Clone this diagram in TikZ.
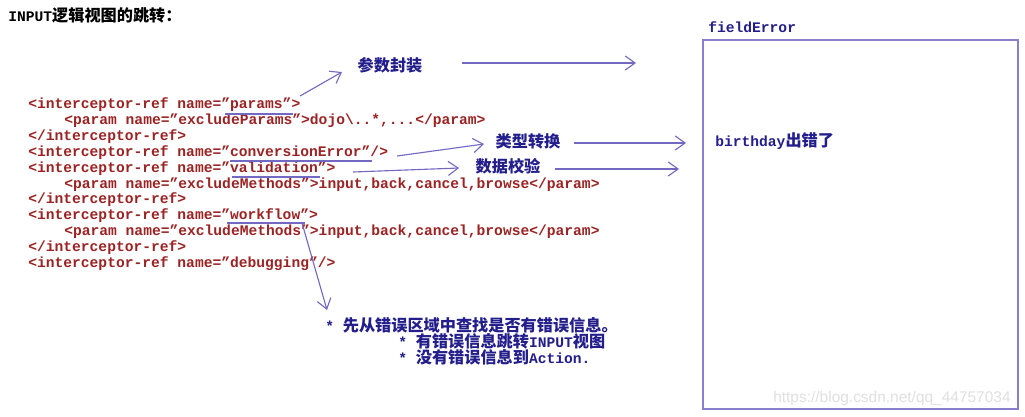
\documentclass[tikz,border=0pt]{standalone}
\usepackage{fontspec}
\setmainfont{Liberation Mono}
\newfontfamily\cjk{Noto Sans CJK SC}
\newfontfamily\wmfont{Liberation Sans}
\usetikzlibrary{arrows.meta}
\definecolor{codered}{RGB}{155,35,35}
\definecolor{inkblue}{RGB}{35,30,140}
\definecolor{penline}{RGB}{115,105,195}
\newcommand{\zh}[1]{{\cjk\fontsize{11.5}{13}\selectfont #1}}

\begin{document}
\begin{tikzpicture}[x=0.025cm,y=-0.025cm,
  code/.style={anchor=west,inner sep=0pt,text height=7pt,text depth=2pt,
    color=codered,font=\fontsize{10.4}{12}\selectfont\bfseries},
  note/.style={inner sep=0pt,text height=8.5pt,text depth=2pt,
    color=inkblue,font=\fontsize{10.4}{12}\selectfont\bfseries},
  pen/.style={draw=penline,line width=0.8pt},
  >={Straight Barb[length=7pt,width=10pt]}]
\useasboundingbox[fill=white] (0,0) rectangle (1025,416);

\node[note,anchor=west,color=black] (title) at (8,17) {INPUT\zh{逻辑视图的跳转：}};

% the interceptor stack
\node[code] (l1) at (28,105) {<interceptor-ref name="params">};
\node[code] (l2) at (64,121) {<param name="excludeParams">dojo\textbackslash..*,...</param>};
\node[code] (l3) at (28,137) {</interceptor-ref>};
\node[code] (l4) at (28,153) {<interceptor-ref name="conversionError"/>};
\node[code] (l5) at (28,169) {<interceptor-ref name="validation">};
\node[code] (l6) at (64,185) {<param name="excludeMethods">input,back,cancel,browse</param>};
\node[code] (l7) at (28,200) {</interceptor-ref>};
\node[code] (l8) at (28,216) {<interceptor-ref name="workflow">};
\node[code] (l9) at (64,232) {<param name="excludeMethods">input,back,cancel,browse</param>};
\node[code] (l10) at (28,248) {</interceptor-ref>};
\node[code] (l11) at (28,264) {<interceptor-ref name="debugging"/>};

% labels
\node[note] (fz) at (390,67) {\zh{参数封装}};
\node[note] (lx) at (528,143) {\zh{类型转换}};
\node[note] (sj) at (508,168) {\zh{数据校验}};

\node[note,anchor=west] (b1) at (325,327) {* \zh{先从错误区域中查找是否有错误信息。}};
\node[note,anchor=west] (b2) at (398,343) {* \zh{有错误信息跳转}INPUT\zh{视图}};
\node[note,anchor=west] (b3) at (398,359) {* \zh{没有错误信息到}Action.};

% fieldError box
\node[note,anchor=west] (fe) at (708,28) {fieldError};
\draw[draw=penline!85,line width=1.1pt] (703,40) rectangle (1018,409);
\node[note,anchor=west] (bd) at (715,142) {birthday\zh{出错了}};
\node[anchor=west,inner sep=0pt,color=black!12,font=\wmfont\fontsize{11}{13}\selectfont] (wm) at (773,398) {https://blog.csdn.net/qq\_44757034};

% underlines
\draw[pen] (225,114)--(293,114);
\draw[pen] (230,161)--(372,161);
\draw[pen] (232,177)--(320,177);
\draw[pen] (227,223)--(305,223);

% arrows
\coordinate (p1) at (300,96);  \coordinate (q1) at (342,72);
\coordinate (p2) at (462,63);  \coordinate (q2) at (636,63);
\coordinate (p3) at (397,156); \coordinate (q3) at (484,144);
\coordinate (p4) at (574,143); \coordinate (q4) at (686,143);
\coordinate (p5) at (353,172); \coordinate (q5) at (459,168);
\coordinate (p6) at (555,169); \coordinate (q6) at (679,169);
\coordinate (p7) at (302,223); \coordinate (q7) at (327,310);
\foreach \i in {1,...,7} {
\draw[pen,->] (p\i)--(q\i);
}
\end{tikzpicture}
\end{document}
